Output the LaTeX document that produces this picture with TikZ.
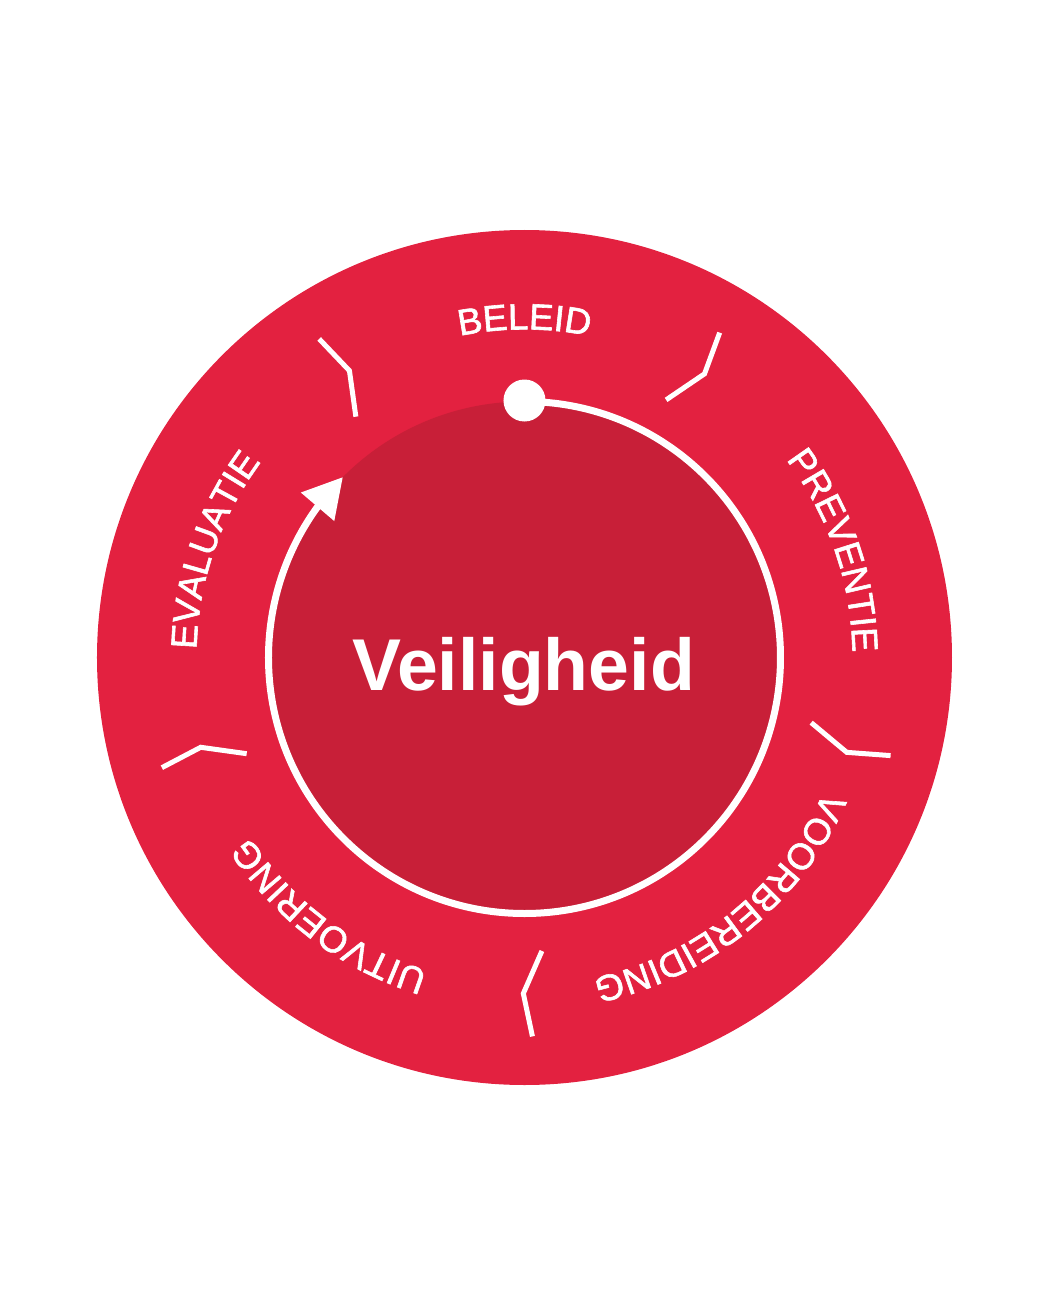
\documentclass[tikz,border=0pt]{standalone}
\usepackage{fontspec}
\setmainfont{Liberation Sans}
\newfontfamily\labelfam[FakeBold=1.6]{Liberation Sans}
\usetikzlibrary{arrows.meta,bending,decorations.text}
\definecolor{outerred}{RGB}{227,33,64}
\definecolor{innerred}{RGB}{200,31,56}
\newcommand{\labelfont}{\labelfam\fontsize{18.3}{18.3}\selectfont}
\begin{document}
\begin{tikzpicture}[x=0.5pt,y=0.5pt,
  sepline/.style={draw=white,line width=2.5pt,line join=miter},
  ringline/.style={draw=white,line width=3.5pt},
  arclabel/.style={decorate,decoration={text along path,text align=center,text={|\color{white}\labelfont|#1}}}]
\useasboundingbox (-524.5,-655.5) rectangle (525.5,657.5);
\fill[outerred] (0,0) circle[radius=427.5];
\fill[innerred] (0,0) circle[radius=256];
\draw[ringline,-{Triangle[length=19.5pt,width=21pt]}] (90:256) arc[start angle=90,end angle=-224.8,radius=256];
\fill[white] (90:257) circle[radius=21];
\foreach \t in {121.4,57.6,-16.4,-90.2,-164.5}
  \draw[sepline] (\t+3.6:294) -- (\t:336) -- (\t+1.4:379);
\path[arclabel=BELEID] (160:328) arc[start angle=160,end angle=20,radius=328];
\path[arclabel=PREVENTIE] (89:328) arc[start angle=89,end angle=-51,radius=328];
\path[arclabel=VOORBEREIDING] (19:328) arc[start angle=19,end angle=-121,radius=328];
\path[arclabel=UITVOERING] (-57:328) arc[start angle=-57,end angle=-197,radius=328];
\path[arclabel=EVALUATIE] (231:328) arc[start angle=231,end angle=91,radius=328];
\node[font=\bfseries\fontsize{36.7}{36.7}\selectfont,text=white,anchor=base,inner sep=0pt] (title) at (-1,-32.5) {Veiligheid};
\end{tikzpicture}
\end{document}
